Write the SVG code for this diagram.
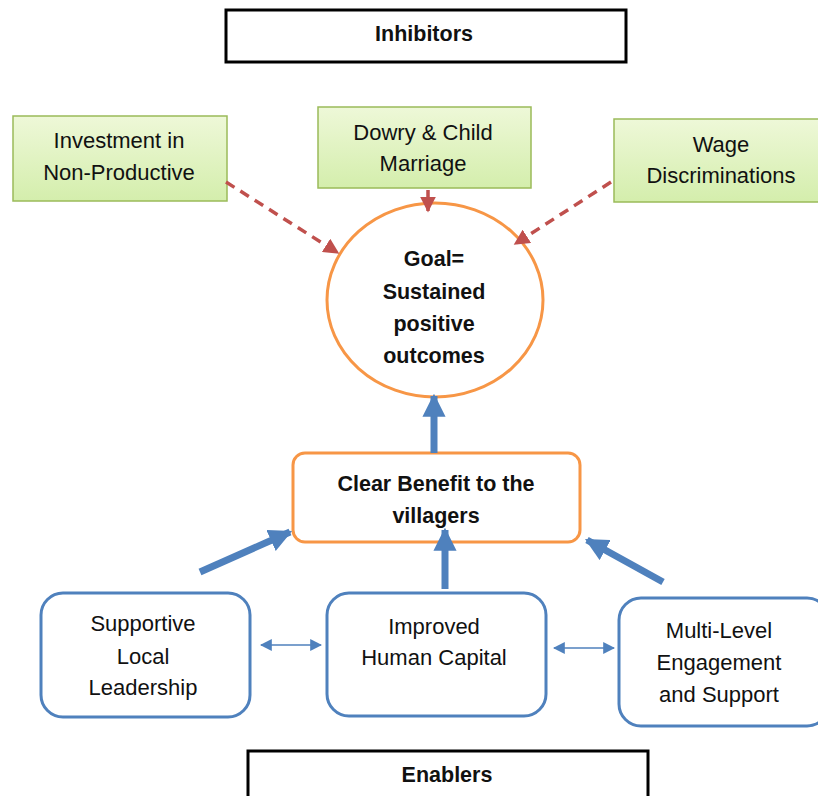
<svg xmlns="http://www.w3.org/2000/svg" width="818" height="796" viewBox="0 0 818 796">
<style>
.t{font-family:"Liberation Sans",Arial,sans-serif;font-size:22px;fill:#111;text-anchor:middle}
.b{font-weight:bold;font-size:21.5px}
.lbl{fill:#fff;stroke:#000;stroke-width:3}
.grn{fill:url(#g);stroke:#9bbb59;stroke-width:1.5}
.blue{fill:#fff;stroke:#4f81bd;stroke-width:3}
.dash{stroke:#c0504d;stroke-width:3.5;stroke-dasharray:10,7;fill:none}
.thick{stroke:#4f81bd;stroke-width:7;fill:none}
.thin{stroke:#4f81bd;stroke-width:1.5;fill:none}
</style>
<defs>
<linearGradient id="g" x1="0" y1="0" x2="0" y2="1"><stop offset="0" stop-color="#eef8d8"/><stop offset="1" stop-color="#d4eeac"/></linearGradient>
<marker id="rh" viewBox="0 0 10 10" refX="9" refY="5" markerWidth="4.5" markerHeight="4.5" orient="auto" markerUnits="strokeWidth"><path d="M0,0 L10,5 L0,10 z" fill="#c0504d"/></marker>
<marker id="bh" viewBox="0 0 10 10" refX="9" refY="5" markerWidth="3.3" markerHeight="3.3" orient="auto" markerUnits="strokeWidth"><path d="M0,0 L10,5 L0,10 z" fill="#4f81bd"/></marker>
<marker id="sh" viewBox="0 0 10 10" refX="9" refY="5" markerWidth="8" markerHeight="8" orient="auto-start-reverse" markerUnits="strokeWidth"><path d="M0,0 L10,5 L0,10 z" fill="#4f81bd"/></marker>
</defs>

<g id="inhibitors"><rect class="lbl" x="226" y="10" width="400" height="52"/><text class="t b" x="424" y="41">Inhibitors</text></g>

<g id="investment"><rect class="grn" x="13" y="116" width="214" height="85"/><text class="t" x="119" y="148">Investment in</text><text class="t" x="119" y="180">Non-Productive</text></g>
<g id="dowry"><rect class="grn" x="318" y="107" width="213" height="81"/><text class="t" x="423" y="140">Dowry &amp; Child</text><text class="t" x="423" y="171">Marriage</text></g>
<g id="wage"><rect class="grn" x="614" y="119" width="210" height="83"/><text class="t" x="721" y="152">Wage</text><text class="t" x="721" y="183">Discriminations</text></g>

<g id="goal"><ellipse cx="435" cy="300" rx="108" ry="97" fill="#fff" stroke="#f79646" stroke-width="3"/>
<text class="t b" x="434" y="266">Goal=</text><text class="t b" x="434" y="299">Sustained</text><text class="t b" x="434" y="331">positive</text><text class="t b" x="434" y="363">outcomes</text></g>

<g id="benefit"><rect x="293" y="453" width="287" height="89" rx="12" fill="#fff" stroke="#f79646" stroke-width="3"/><text class="t b" x="436" y="491">Clear Benefit to the</text><text class="t b" x="436" y="523">villagers</text></g>

<g id="supportive"><rect class="blue" x="41" y="593" width="209" height="124" rx="22"/><text class="t" x="143" y="631">Supportive</text><text class="t" x="143" y="664">Local</text><text class="t" x="143" y="695">Leadership</text></g>
<g id="improved"><rect class="blue" x="327" y="593" width="219" height="123" rx="22"/><text class="t" x="434" y="634">Improved</text><text class="t" x="434" y="665">Human Capital</text></g>
<g id="multilevel"><rect class="blue" x="619" y="598" width="210" height="128" rx="22"/><text class="t" x="719" y="638">Multi-Level</text><text class="t" x="719" y="670">Engagement</text><text class="t" x="719" y="702">and Support</text></g>

<g id="enablers"><rect class="lbl" x="248" y="751" width="400" height="52"/><text class="t b" x="447" y="782">Enablers</text></g>

<g id="connectors">
<line class="dash" x1="226" y1="182" x2="338" y2="253" marker-end="url(#rh)"/>
<line class="dash" x1="428" y1="190" x2="428" y2="211" marker-end="url(#rh)"/>
<line class="dash" x1="611" y1="182" x2="515" y2="244" marker-end="url(#rh)"/>
<line class="thick" x1="434" y1="453" x2="434" y2="396" marker-end="url(#bh)"/>
<line class="thick" x1="200" y1="572" x2="290" y2="532" marker-end="url(#bh)"/>
<line class="thick" x1="445" y1="589" x2="445" y2="530" marker-end="url(#bh)"/>
<line class="thick" x1="663" y1="582" x2="587" y2="540" marker-end="url(#bh)"/>
<line class="thin" x1="261" y1="645" x2="321" y2="645" marker-start="url(#sh)" marker-end="url(#sh)"/>
<line class="thin" x1="554" y1="648" x2="614" y2="648" marker-start="url(#sh)" marker-end="url(#sh)"/>
</g>
</svg>
